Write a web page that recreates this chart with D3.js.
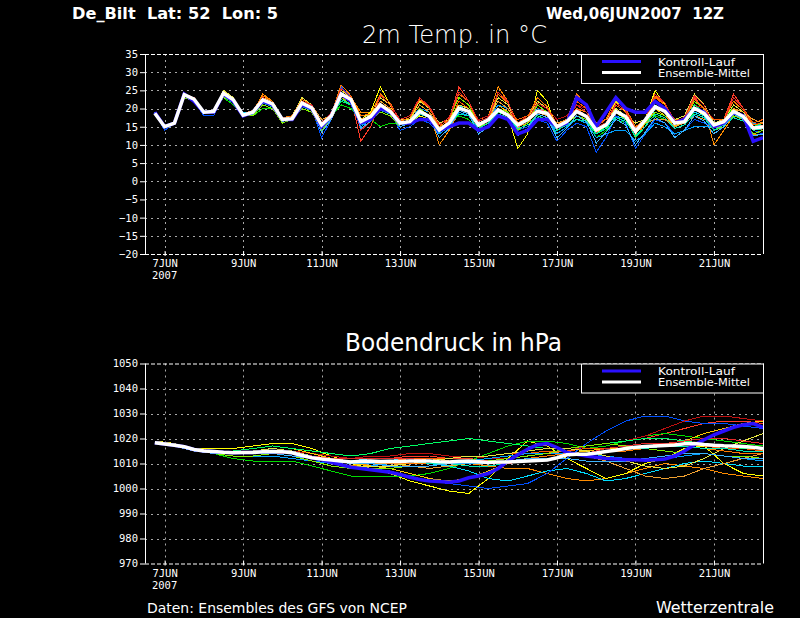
<!DOCTYPE html>
<html>
<head>
<meta charset="utf-8">
<script src="https://cdn.jsdelivr.net/npm/d3@7"></script>
<style>
  html, body { margin: 0; padding: 0; background: #000; }
  svg { display: block; }
</style>
</head>
<body>
<svg id="chart" width="800" height="618"></svg>
<script>
// Forecast run and plotted time window (6-hourly steps after the run)
const runTime = Date.UTC(2007, 5, 6, 12);
const endTime = Date.UTC(2007, 5, 22, 6);
const HOUR = 3600 * 1000;

const tickDays = [7, 9, 11, 13, 15, 17, 19, 21];
const tickLabels = ['7JUN', '9JUN', '11JUN', '13JUN', '15JUN', '17JUN', '19JUN', '21JUN'];
const yearLabel = '2007';

const tempTicks = [-20, -15, -10, -5, 0, 5, 10, 15, 20, 25, 30, 35];
const pressTicks = [970, 980, 990, 1000, 1010, 1020, 1030, 1040, 1050];

const memberColors = ['#ff3c28', '#ff8c00', '#ffff00', '#00dc00', '#00dcff', '#0050ff', '#c01010',
                      '#ffc800', '#ff5a00', '#00ff64', '#00a0ff', '#f0a030', '#80f000', '#e6e640',
                      '#ff7800', '#00e6b4', '#e62828', '#3cb4ff'];
const CONTROL_COLOR = '#2a10ff';

// 2m temperature, 6-hourly from 06JUN 18Z
const tempMean = [18.7, 15, 16, 23.8, 22.6, 19, 19.2, 24.2, 22.4,
  18.2, 19, 22.4, 21.3, 17, 17.2, 21.5, 20.2, 15.5, 18, 24, 22.5, 16.4, 17.8, 21, 19.2,
  16, 16.4, 19.2, 17.8, 14.1, 16, 20.1, 19.2, 15.5, 16.9, 19.6, 18.2, 15.5, 16.9, 19.2, 18.7,
  15, 16.4, 19.2, 17.8, 14.1, 15.5, 19.2, 17.8, 13.7, 16.9, 20.5, 19.2, 16, 16.4, 20.1, 18.7,
  15.5, 16.4, 19.2, 17.8, 14.6, 15];

const tempControl = [19, 15, 16, 24, 22, 19, 19, 24, 22,
  18, 19, 22, 21, 17, 17, 21, 20, 15, 18, 24, 22, 16, 17, 20, 19, 16, 16, 17, 17,
  14, 15, 16, 16, 14, 15, 18, 17, 13, 14, 17, 17, 15, 16, 23, 21, 15, 19, 23, 20,
  19, 19, 22, 20, 16, 17, 20, 19, 15, 16, 19, 18, 11, 12];

const tempMembers = [
  [19,15,16,24,22,19,19,24,22, 18,19,23,21, 17,17,22,21, 15,18,26,23, 11,15,22,20, 16,17,21,19, 14,17,26,22, 16,17,21,19, 15,17,20,19, 14,16,20,18, 13,15,21,19, 14,17,22,20, 17,17,23,20, 16,17,24,20, 15,14],
  [19,15,16,24,23,19,19,25,23, 18,19,24,22, 17,18,22,21, 16,19,25,23, 19,19,23,21, 17,17,21,19, 10,14,19,18, 17,18,26,22, 14,16,19,18, 16,17,20,19, 15,16,20,18, 12,16,19,18, 17,17,22,20, 10,14,18,17, 13,13],
  [19,15,16,24,22,19,19,24,22, 18,19,22,21, 17,17,21,20, 15,17,24,22, 17,19,26,21, 15,16,18,17, 13,15,20,19, 15,16,19,18, 9,13,25,22, 14,16,19,18, 13,16,22,19, 13,17,25,21, 15,16,20,18, 16,17,20,18, 16,16],
  [19,15,16,23,22,19,19,23,21, 18,18,20,20, 17,17,20,19, 16,18,21,20, 17,17,15,16, 16,17,19,18, 15,16,18,17, 14,15,18,17, 15,16,18,17, 13,15,18,17, 12,14,17,16, 14,16,18,17, 15,16,19,18, 16,16,21,19, 17,16],
  [19,15,16,24,22,19,19,24,22, 19,19,23,22, 17,18,22,21, 15,18,25,23, 16,18,20,19, 16,16,20,18, 14,16,21,19, 16,17,20,19, 16,17,19,18, 15,16,18,17, 14,15,18,17, 12,15,20,18, 16,17,19,18, 14,16,18,17, 13,14],
  [19,14,16,24,22,18,18,24,22, 18,18,21,20, 16,17,21,20, 12,17,26,23, 15,17,21,19, 14,15,17,16, 13,15,19,18, 14,15,18,17, 14,15,17,16, 11,14,16,15, 8,12,18,16, 9,13,17,16, 13,14,17,16, 15,16,19,17, 14,13],
  [19,15,16,24,23,19,19,24,22, 18,19,23,22, 17,17,22,21, 16,19,24,22, 17,18,22,20, 17,18,22,20, 15,17,23,21, 17,18,22,20, 16,18,22,20, 17,18,21,20, 15,16,19,18, 15,17,19,18, 16,17,21,20, 17,17,21,19, 16,16],
  [19,15,16,24,22,19,19,25,22, 18,19,22,21, 17,17,21,20, 15,18,23,22, 16,18,22,20, 15,16,19,18, 14,16,20,19, 15,17,21,19, 16,17,21,19, 15,17,22,20, 14,16,20,18, 13,16,20,18, 15,17,24,21, 14,16,20,18, 14,15],
  [19,15,16,24,23,19,19,24,22, 18,19,22,21, 17,17,21,20, 15,18,25,23, 17,18,21,20, 16,17,21,19, 14,16,22,20, 16,17,20,19, 17,18,21,19, 16,17,22,20, 15,17,21,19, 14,17,23,21, 16,17,21,19, 17,17,23,20, 16,17],
  [19,15,16,24,22,19,19,24,22, 18,19,22,21, 17,17,20,19, 15,18,22,21, 15,17,19,18, 15,16,19,18, 15,16,20,19, 15,16,19,18, 15,16,18,17, 13,15,18,17, 13,15,19,17, 12,15,21,19, 16,17,21,19, 15,16,19,17, 15,16],
  [19,15,16,24,22,19,19,24,22, 18,19,22,21, 17,17,21,20, 14,17,24,22, 15,17,20,19, 16,17,20,19, 13,15,19,18, 16,17,21,20, 15,16,20,18, 13,15,17,16, 12,13,14,14, 11,13,16,15, 13,14,15,15, 15,16,18,17, 16,15],
  [19,15,16,24,22,19,19,24,22, 18,19,22,21, 17,18,22,21, 17,18,23,22, 18,18,22,20, 16,17,21,19, 15,16,21,20, 16,17,22,20, 15,16,19,18, 16,17,19,18, 16,17,19,18, 15,16,17,17, 15,16,18,17, 16,16,20,19, 17,16],
  [19,15,16,23,22,19,19,23,22, 18,18,21,20, 16,17,20,19, 14,17,23,21, 16,17,19,18, 15,16,20,18, 15,17,23,21, 15,16,20,19, 14,16,21,19, 14,16,18,17, 14,15,19,17, 14,16,19,18, 17,18,22,20, 14,15,18,17, 13,14],
  [19,15,16,24,23,19,19,25,23, 18,19,23,22, 17,18,23,21, 16,18,25,23, 18,18,23,21, 17,17,22,20, 16,17,21,20, 16,17,23,21, 16,17,22,20, 15,17,21,19, 16,17,20,18, 16,17,20,19, 17,18,24,21, 16,17,21,19, 15,15],
  [19,15,16,24,22.5,19,19.5,24.5,22.5, 18.5,19.5,23.5,22, 17.5,18,22.5,21, 16,18.5,26.5,23.5, 18,18.5,24,21.5, 16.5,17.5,22.5,20, 15,17,24,22, 15.5,17,24,21.5, 16,17.5,23,20.5, 15.5,17,24,21, 16,17,22.5,20, 15,17,23.5,21, 16.5,17.5,22.5,20, 15.5,17,22,19.5, 15.5,16],
  [19,15,16,23.5,22,19,19,23.5,21.5, 18,18.5,21.5,20.5, 16.5,17,20.5,19.5, 14.5,17.5,22.5,21, 15.5,17,19.5,18.5, 15.5,16,18.5,17.5, 13.5,15.5,18.5,18, 14.5,16,18.5,17.5, 14.5,15.5,17.5,17, 14,15.5,17,16.5, 13,14.5,17.5,16.5, 12.5,15,18.5,17.5, 14.5,15.5,18.5,17.5, 14,15.5,17.5,16.5, 14,14.5],
  [19,15,16,24,23,19,19,24.5,22.5, 18,19,23,21.5, 17,17.5,22,21, 15.5,18.5,25.5,23, 14,16.5,23.5,21, 17,18,23,20.5, 15.5,17.5,24.5,22, 16.5,17.5,24.5,22, 15,17,21.5,20, 14.5,16.5,21,19, 13.5,16,21.5,19.5, 14.5,17,24,21.5, 16.5,17.5,23.5,21, 15,16.5,23,20, 14.5,15.5],
  [19,15,16,24,22,19,19,24,22, 18.5,19,22,21, 16.5,17,21,20, 13.5,17,24.5,22.5, 14.5,16.5,20.5,19, 15,16,19,17.5, 12,14.5,19.5,18.5, 13,15,19.5,18, 12.5,14.5,18.5,17.5, 12,14.5,18,16.5, 10.5,13.5,17,15.5, 10,13.5,17.5,16, 12,14,18,16.5, 13,15,18.5,17, 12.5,13]
];

// Surface pressure: mean and control 6-hourly, members 12-hourly from 06JUN 18Z
const pressMean = [1018.3, 1017.8, 1017.3, 1016.7, 1015.6, 1015, 1014.8, 1014.5, 1014.3,
  1014.4, 1014.4, 1014.7, 1014.8, 1014.7, 1014.3, 1013.2, 1012.3, 1011.8, 1011.4, 1011, 1010.6,
  1010.9, 1011, 1010.8, 1010.9, 1010.8, 1011, 1011, 1011, 1010.7, 1010.6, 1010.9, 1011,
  1010.7, 1010.4, 1010.6, 1010.6, 1010.8, 1011, 1011.2, 1011.4, 1012.3, 1013.5, 1013.7, 1013.7,
  1014.2, 1014.8, 1015.3, 1016, 1016.5, 1016.8, 1017, 1017.2, 1017.4, 1017.9, 1018, 1017.6,
  1017.3, 1017.1, 1017, 1016.8, 1016.5, 1016];

const pressControl = [1018.3, 1017.8, 1017.3, 1016.7, 1015.6, 1015, 1014.8, 1014.5, 1014.3,
  1014.4, 1014.4, 1014.7, 1014.8, 1014.7, 1014.3, 1013.2, 1012.3, 1011.5, 1010.5, 1009.5, 1008.5,
  1008, 1007.5, 1007, 1006.5, 1005.6, 1004.5, 1003.6, 1003, 1002.8, 1002.5, 1003, 1004.3,
  1005, 1006, 1008, 1011, 1013.5, 1015.7, 1017.5, 1018, 1016.4, 1014.4, 1013.7, 1013,
  1012.5, 1012, 1011.8, 1011.5, 1011.5, 1011.3, 1011.5, 1011.8, 1013, 1015, 1017.5, 1019.5,
  1021.5, 1023, 1024.5, 1025.5, 1026, 1024.5];

const pressMembers = [
  [1018,1017,1016,1015,1014,1014,1015,1015, 1013,1012,1011,1012,1012,1013,1013,1012, 1012,1011,1012,1013,1014,1016,1017,1018, 1019,1020,1022,1024,1026,1027,1027,1026],
  [1018,1017,1015,1014,1014,1014,1015,1014, 1012,1010,1009,1010,1011,1011,1012,1011, 1010,1009,1008,1008,1006,1004,1003,1004, 1006,1008,1010,1009,1008,1006,1005,1004],
  [1019,1018,1016,1016,1016,1017,1018,1018, 1016,1013,1010,1008,1006,1003,1001,999, 998,1004,1012,1019,1017,1012,1008,1004, 1006,1010,1012,1016,1017,1010,1006,1005],
  [1018,1017,1015,1014,1012,1011,1011,1011, 1009,1007,1005,1005,1005,1005,1006,1008, 1011,1014,1017,1019,1019,1018,1016,1017, 1019,1021,1022,1021,1020,1019,1018,1017],
  [1018,1017,1016,1015,1014,1014,1015,1014, 1013,1012,1011,1012,1012,1011,1010,1009, 1007,1004,1003,1005,1007,1008,1006,1003, 1004,1006,1008,1010,1011,1010,1009,1009],
  [1018,1017,1015,1014,1014,1014,1014,1013, 1012,1010,1009,1008,1007,1005,1003,1002, 1001,1000,1001,1002,1006,1012,1018,1023, 1027,1029,1029,1027,1026,1026,1025,1024],
  [1018,1017,1016,1015,1015,1015,1016,1015, 1014,1013,1012,1013,1013,1014,1014,1013, 1013,1012,1012,1013,1014,1015,1017,1018, 1019,1021,1024,1027,1029,1029,1028,1027],
  [1018,1017,1016,1015,1015,1016,1017,1016, 1014,1012,1010,1009,1008,1006,1004,1003, 1004,1007,1010,1012,1013,1014,1015,1016, 1016,1017,1018,1019,1022,1024,1026,1027],
  [1018,1017,1016,1015,1014,1014,1014,1014, 1013,1012,1011,1011,1011,1012,1012,1012, 1013,1013,1014,1014,1015,1015,1016,1016, 1017,1017,1018,1018,1017,1016,1016,1015],
  [1018,1017,1016,1015,1015,1016,1017,1016, 1015,1014,1013,1014,1016,1017,1018,1019, 1020,1019,1018,1017,1016,1016,1017,1018, 1019,1020,1020,1019,1018,1017,1016,1016],
  [1018,1017,1015,1014,1013,1013,1013,1012, 1011,1010,1009,1009,1010,1010,1011,1011, 1011,1012,1013,1014,1014,1014,1014,1013, 1012,1011,1012,1013,1014,1013,1012,1011],
  [1018,1017,1016,1015,1014,1014,1015,1015, 1013,1011,1010,1010,1010,1009,1008,1009, 1010,1011,1012,1013,1014,1015,1013,1011, 1008,1005,1004,1005,1008,1010,1012,1014],
  [1018,1017,1015,1014,1013,1013,1014,1013, 1011,1009,1008,1008,1008,1009,1009,1010, 1011,1011,1012,1013,1014,1016,1017,1018, 1017,1016,1015,1014,1014,1013,1013,1012],
  [1018,1017,1016,1015,1014,1015,1016,1015, 1013,1011,1009,1009,1009,1010,1011,1012, 1013,1013,1014,1015,1016,1016,1015,1013, 1011,1009,1008,1009,1012,1016,1019,1022],
  [1018,1017,1016,1015,1014,1015,1015,1014, 1013,1012,1011,1011,1010,1010,1010,1011, 1011,1011,1011,1012,1013,1014,1014,1015, 1015,1016,1017,1017,1016,1015,1014,1014],
  [1018,1017,1016,1015,1014,1014,1014,1013, 1012,1011,1010,1010,1011,1011,1010,1010, 1009,1009,1010,1011,1012,1013,1014,1015, 1016,1016,1017,1017,1016,1016,1015,1015],
  [1018,1017,1016,1015,1015,1015,1015,1014, 1013,1012,1012,1012,1012,1012,1011,1011, 1011,1010,1010,1011,1012,1013,1014,1016, 1017,1018,1018,1019,1020,1020,1019,1018],
  [1018,1017,1015,1014,1014,1014,1014,1013, 1012,1011,1010,1010,1009,1009,1009,1010, 1010,1010,1011,1012,1012,1012,1011,1011, 1011,1012,1013,1014,1014,1013,1012,1012]
];

// sanity check on hand-typed series
[tempMean, tempControl, pressMean, pressControl, ...tempMembers].forEach((s, i) => {
  if (s.length !== 63) throw new Error('6h series ' + i + ' has ' + s.length);
});
pressMembers.forEach((s, i) => {
  if (s.length !== 32) throw new Error('12h member ' + i + ' has ' + s.length);
});

const times6 = tempMean.map((_, i) => new Date(runTime + (i + 1) * 6 * HOUR));
const times12 = pressMembers[0].map((_, k) => new Date(runTime + (2 * k + 1) * 6 * HOUR));
const tickDates = tickDays.map(d => new Date(Date.UTC(2007, 5, d)));

const svg = d3.select('#chart');
const X0 = 145, X1 = 763;
const MONO = '"DejaVu Sans Mono", monospace';
const SANS = '"DejaVu Sans", sans-serif';

const x = d3.scaleUtc()
    .domain([new Date(runTime), new Date(endTime)])
    .range([X0, X1]);

svg.append('rect').attr('width', 800).attr('height', 618).attr('fill', '#000');

/**
 * Draw one ensemble panel (grid, axes, members, control, mean, legend)
 */
function drawPanel(p) {
    const y = d3.scaleLinear().domain(p.domain).range([p.bottom, p.top]);
    const g = svg.append('g');

    // dotted grid
    g.append('g').selectAll('line')
        .data(p.ticks.slice(1, -1)).join('line')
        .attr('x1', X0).attr('x2', X1)
        .attr('y1', d => Math.round(y(d)) + 0.5).attr('y2', d => Math.round(y(d)) + 0.5)
        .attr('stroke', '#a8a8a8').attr('stroke-dasharray', '2,4');
    g.append('g').selectAll('line')
        .data(tickDates).join('line')
        .attr('x1', d => Math.round(x(d)) + 0.5).attr('x2', d => Math.round(x(d)) + 0.5)
        .attr('y1', p.top).attr('y2', p.bottom)
        .attr('stroke', '#a8a8a8').attr('stroke-dasharray', '2,4');

    // ensemble lines, clipped to the plot area
    const clipId = 'clip-' + p.name;
    svg.append('clipPath').attr('id', clipId)
        .append('rect')
        .attr('x', X0).attr('y', p.top)
        .attr('width', X1 - X0).attr('height', p.bottom - p.top);
    const lg = g.append('g').attr('clip-path', `url(#${clipId})`);

    const line6 = d3.line().x((d, i) => x(times6[i])).y(d => y(d));
    const memberLine = d3.line().x((d, i) => x(p.memberTimes[i])).y(d => y(d));

    lg.selectAll('path.member')
        .data(p.members).join('path')
        .attr('class', 'member')
        .attr('d', d => memberLine(d))
        .attr('fill', 'none')
        .attr('stroke', (d, i) => memberColors[i % memberColors.length])
        .attr('stroke-width', 1)
        .attr('shape-rendering', 'crispEdges');

    lg.append('path')
        .attr('d', line6(p.control))
        .attr('fill', 'none')
        .attr('stroke', CONTROL_COLOR)
        .attr('stroke-width', 3.5);

    lg.append('path')
        .attr('d', line6(p.mean))
        .attr('fill', 'none')
        .attr('stroke', '#fff')
        .attr('stroke-width', 3.5);

    // frame
    g.append('line').attr('x1', X0 + 0.5).attr('x2', X0 + 0.5)
        .attr('y1', p.top).attr('y2', p.bottom).attr('stroke', '#fff');
    g.append('line').attr('x1', X1 + 0.5).attr('x2', X1 + 0.5)
        .attr('y1', p.top).attr('y2', p.bottom).attr('stroke', '#fff');
    [p.top, p.bottom].forEach(yy => {
        g.append('line').attr('x1', X0).attr('x2', X1)
            .attr('y1', yy + 0.5).attr('y2', yy + 0.5)
            .attr('stroke', '#fff').attr('stroke-dasharray', '4,2');
    });

    // y axis
    const ya = g.append('g')
        .attr('transform', `translate(${X0},0)`)
        .call(d3.axisLeft(y).tickValues(p.ticks).tickSize(5).tickPadding(2)
            .tickFormat(d3.format('d')));
    ya.select('.domain').remove();
    ya.attr('color', '#fff').attr('font-family', MONO).attr('font-size', 10.5);

    // x axis
    const xa = g.append('g')
        .attr('transform', `translate(0,${p.bottom})`)
        .call(d3.axisBottom(x).tickValues(tickDates).tickSize(3)
            .tickFormat((d, i) => tickLabels[i]));
    xa.select('.domain').remove();
    xa.attr('color', '#fff').attr('font-family', MONO).attr('font-size', 10.5);
    xa.selectAll('.tick line').attr('y1', -3).attr('y2', 2);
    xa.selectAll('.tick text').attr('y', 13).attr('dy', null);
    g.append('text')
        .attr('x', x(tickDates[0])).attr('y', p.bottom + 25)
        .attr('text-anchor', 'middle')
        .attr('fill', '#fff')
        .attr('font-family', MONO).attr('font-size', 10.5)
        .text(yearLabel);

    // legend
    const lgd = g.append('g').attr('transform', `translate(581,${p.top})`);
    lgd.append('rect')
        .attr('x', 0.5).attr('y', 0.5)
        .attr('width', 182).attr('height', 29)
        .attr('fill', '#000').attr('stroke', '#fff');
    lgd.append('line')
        .attr('x1', 21).attr('x2', 60).attr('y1', 7.5).attr('y2', 7.5)
        .attr('stroke', CONTROL_COLOR).attr('stroke-width', 3);
    lgd.append('line')
        .attr('x1', 21).attr('x2', 60).attr('y1', 18.5).attr('y2', 18.5)
        .attr('stroke', '#fff').attr('stroke-width', 3);
    lgd.append('text')
        .attr('x', 77).attr('y', 11.7)
        .attr('fill', '#fff').attr('font-family', SANS).attr('font-size', 10.5)
        .attr('textLength', 77).attr('lengthAdjust', 'spacingAndGlyphs')
        .text('Kontroll-Lauf');
    lgd.append('text')
        .attr('x', 77).attr('y', 22.7)
        .attr('fill', '#fff').attr('font-family', SANS).attr('font-size', 10.5)
        .attr('textLength', 92).attr('lengthAdjust', 'spacingAndGlyphs')
        .text('Ensemble-Mittel');

    // title
    svg.append('text')
        .attr('x', p.titleX).attr('y', p.titleY)
        .attr('fill', '#fff').attr('font-family', SANS)
        .attr('font-size', 25).attr('font-weight', p.titleWeight)
        .attr('textLength', p.titleW).attr('lengthAdjust', 'spacingAndGlyphs')
        .text(p.title);
}

drawPanel({
    name: 'temp', title: '2m Temp. in \u00b0C',
    titleX: 362, titleY: 42.5, titleW: 185, titleWeight: 200,
    top: 54, bottom: 254, domain: [-20, 35], ticks: tempTicks,
    members: tempMembers, memberTimes: times6,
    control: tempControl, mean: tempMean
});

drawPanel({
    name: 'press', title: 'Bodendruck in hPa',
    titleX: 345, titleY: 350.5, titleW: 217, titleWeight: 400,
    top: 363.5, bottom: 563.5, domain: [970, 1050], ticks: pressTicks,
    members: pressMembers, memberTimes: times12,
    control: pressControl, mean: pressMean
});

// header and footer
function label(txt, xPos, yPos, size, weight, width) {
    svg.append('text')
        .attr('x', xPos).attr('y', yPos)
        .attr('fill', '#fff').attr('font-family', SANS)
        .attr('font-size', size).attr('font-weight', weight)
        .attr('textLength', width).attr('lengthAdjust', 'spacingAndGlyphs')
        .style('white-space', 'pre')
        .text(txt);
}
label('De_Bilt  Lat: 52  Lon: 5', 72, 19, 16, 'bold', 206);
label('Wed,06JUN2007  12Z', 546, 19, 16, 'bold', 178);
label('Daten: Ensembles des GFS von NCEP', 147, 612.5, 13.5, 'normal', 260);
label('Wetterzentrale', 656, 613, 16, 'normal', 118);
</script>
</body>
</html>
